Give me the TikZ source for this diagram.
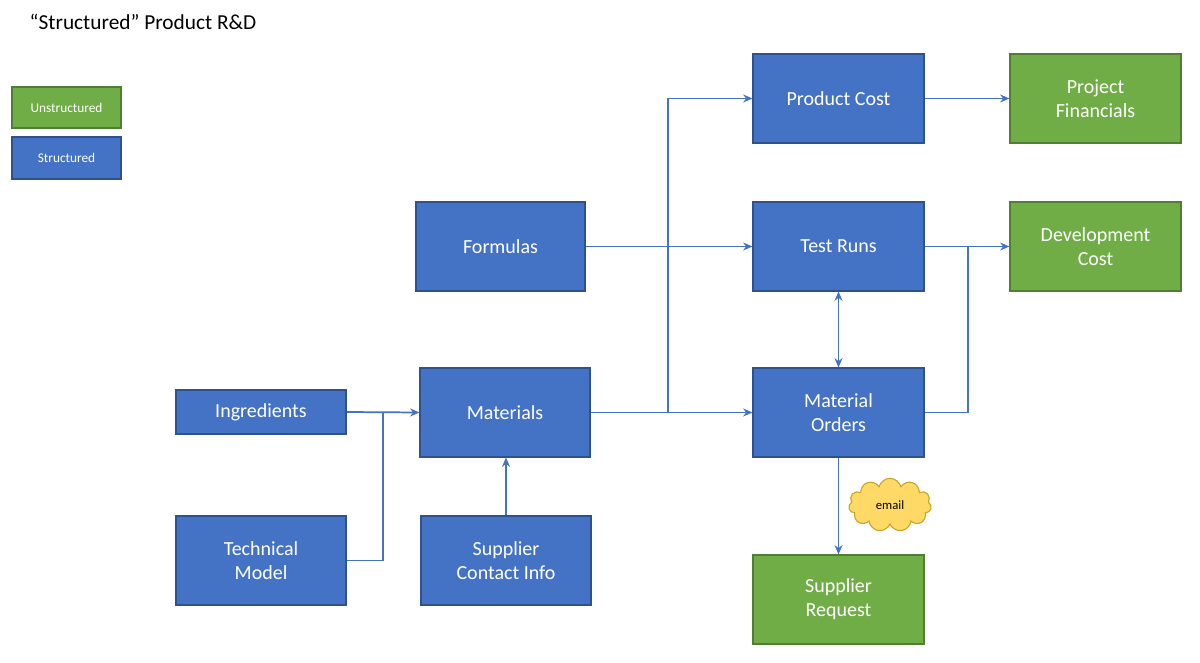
\documentclass[tikz,border=0pt]{standalone}
\usepackage{fontspec}
\setmainfont{Carlito}
\usetikzlibrary{shapes.symbols,arrows.meta}
\definecolor{bl}{HTML}{4472C4}\definecolor{bld}{HTML}{2F528F}
\definecolor{gr}{HTML}{70AD47}\definecolor{grd}{HTML}{507E32}
\definecolor{yl}{HTML}{FFD966}\definecolor{yld}{HTML}{C9A227}
\begin{document}
\begin{tikzpicture}[x=0.75pt,y=-0.75pt,
 box/.style={draw=bld,line width=0.8pt,fill=bl,text=white,font=\fontsize{15}{18}\selectfont,align=center,inner sep=0pt},
 gbox/.style={box,draw=grd,fill=gr},
 leg/.style={font=\fontsize{10}{12}\selectfont},
 ar/.style={draw=bl,line width=1.3pt,-{Stealth[length=7pt,width=6pt]}},
 ln/.style={draw=bl,line width=1.3pt}]
\useasboundingbox (0,0) rectangle (1200,663);
\node[anchor=west,font=\fontsize{16}{19}\selectfont] (title) at (25,22) {“Structured” Product R\&D};
\newcommand\bx[7]{\node[#1,minimum width=(#4-#2)*0.75pt,minimum height=(#5-#3)*0.75pt] (#6) at ({(#2+#4)/2},{(#3+#5)/2}) {#7};}
\bx{gbox,leg}{12}{87}{121}{128}{lu}{Unstructured}
\bx{box,leg}{12}{137}{121}{179}{ls}{Structured}
\bx{box}{753}{54}{924}{143}{pc}{Product Cost}
\bx{gbox}{1010}{54}{1181}{143}{pf}{Project\\Financials}
\bx{box}{416}{202}{585}{291}{fo}{Formulas}
\bx{box}{753}{202}{924}{291}{tr}{Test Runs}
\bx{gbox}{1010}{202}{1181}{291}{dc}{Development\\Cost}
\bx{box}{176}{390}{346}{434}{in}{Ingredients}
\bx{box}{420}{368}{590}{457}{ma}{Materials}
\bx{box}{753}{368}{924}{457}{mo}{Material\\Orders}
\bx{box}{176}{516}{346}{605}{tm}{Technical\\Model}
\bx{box}{421}{516}{591}{605}{sc}{Supplier\\Contact Info}
\bx{gbox}{753}{555}{924}{644}{sr}{Supplier\\Request}
\node[cloud,cloud puffs=11,aspect=1.5,draw=yld,fill=yl,line width=0.8pt,minimum width=62pt,minimum height=40pt,font=\fontsize{9.5}{11}\selectfont,inner sep=0pt] (em) at (890,505) {email};
\coordinate (j1) at (383,412);
\coordinate (j2) at (668,412);
\coordinate (j3) at (968,412);
\coordinate (j4) at (968,247);
\draw[ar] (in.east) -- (ma.west);
\draw[ln] (tm.east) -| (j1);
\draw[ar] (sc.north) -- (sc.north|-ma.south);
\draw[ar] (ma.east) -- (mo.west);
\draw[ar] (j2) |- (pc.west);
\draw[ar] (fo.east) -- (tr.west);
\draw[ar] (pc.east) -- (pf.west);
\draw[ar] (tr.east) -- (dc.west);
\draw[ln] (mo.east) -| (j4);
\draw[ar,{Stealth[length=7pt,width=6pt]}-{Stealth[length=7pt,width=6pt]}] (tr.south) -- (mo.north);
\draw[ar] (mo.south) -- (sr.north);
\end{tikzpicture}
\end{document}
